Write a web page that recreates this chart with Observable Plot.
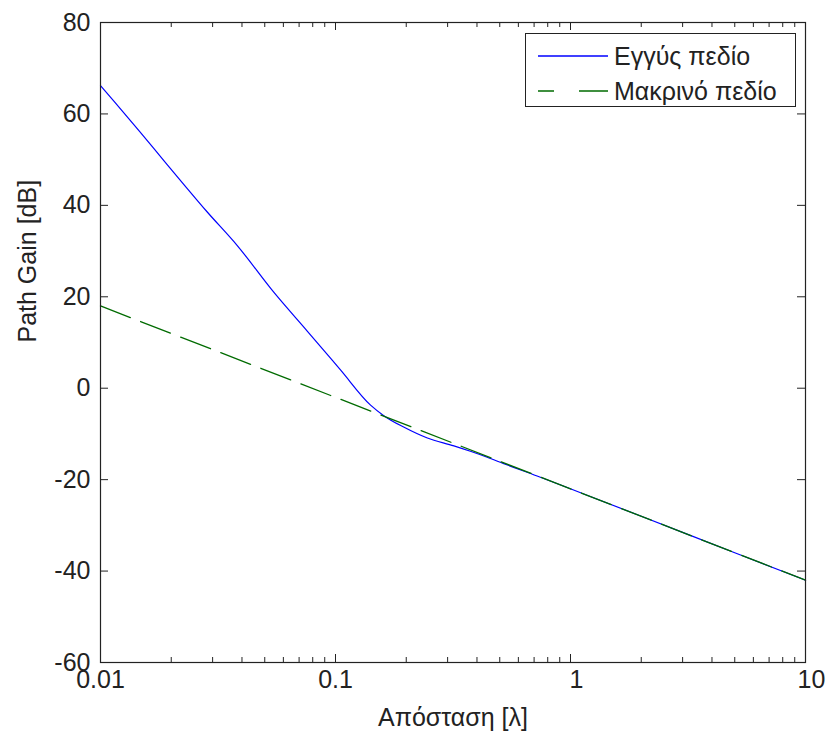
<!DOCTYPE html>
<html><head><meta charset="utf-8">
<script src="https://cdn.jsdelivr.net/npm/d3@7"></script>
<script src="https://cdn.jsdelivr.net/npm/@observablehq/plot@0.6"></script>
<style>
body{margin:0;background:#fff;}
#wrap{position:relative;width:831px;height:738px;font-family:"Liberation Sans",Arial,sans-serif;}
#legend{position:absolute;left:525px;top:33px;width:269px;height:72px;border:1px solid #222;background:#fff;}
#legend svg{display:block;}
</style></head><body><div id="wrap"></div>
<script>
// Near-field curve (distance in λ, path gain in dB)
const nearDist = [0.01, 0.0114, 0.0146, 0.0186, 0.0226, 0.0284, 0.0382, 0.0546, 0.0758, 0.105, 0.141, 0.1605, 0.195, 0.246, 0.319, 0.375, 0.442, 0.52, 0.721, 1.07, 2, 5, 10];
const nearGain = [66.2, 62.8, 56.3, 49.8, 44.6, 38.6, 31.2, 21.0, 12.5, 4.0, -3.7, -6.0, -8.5, -10.9, -12.6, -13.8, -15.1, -16.5, -19.2, -22.6, -28.0, -36.0, -42.0];
// Far-field curve
const farDist = [0.01, 0.1, 1, 10];
const farGain = [18, -2, -22, -42];

const seriesNames = ["Εγγύς πεδίο", "Μακρινό πεδίο"];
const seriesColors = ["#0000ff", "#006b00"];
const xLabel = "Απόσταση [λ]";
const yLabel = "Path Gain [dB]";
const xTickValues = [0.01, 0.1, 1, 10];
const xMinorTicks = [0.02,0.03,0.04,0.05,0.06,0.07,0.08,0.09,0.2,0.3,0.4,0.5,0.6,0.7,0.8,0.9,2,3,4,5,6,7,8,9];
const yTickValues = [-60, -40, -20, 0, 20, 40, 60, 80];

const near = nearDist.map((d, i) => ({d, g: nearGain[i]}));
const far = farDist.map((d, i) => ({d, g: farGain[i]}));

const W = 831, H = 738, mL = 100, mR = 26, mT = 22, mB = 76;
const fw = W - mL - mR, fh = H - mT - mB;
const majorLen = 8, minorLen = 5;
const axisColor = "#222";

const chart = Plot.plot({
  width: W, height: H,
  marginLeft: mL, marginRight: mR, marginTop: mT, marginBottom: mB,
  style: {fontFamily: '"Liberation Sans", Arial, sans-serif', fontSize: "25px", color: axisColor, background: "#fff"},
  x: {type: "log", domain: [0.01, 10]},
  y: {domain: [-60, 80]},
  marks: [
    Plot.line(near, {x: "d", y: "g", stroke: seriesColors[0], strokeWidth: 1.2, curve: "monotone-x"}),
    Plot.line(far, {x: "d", y: "g", stroke: seriesColors[1], strokeWidth: 1.3, strokeDasharray: "32,11"}),
    // inward ticks: bottom & top
    Plot.tickX(xTickValues, {x: d => d, insetTop: fh - majorLen, stroke: axisColor}),
    Plot.tickX(xTickValues, {x: d => d, insetBottom: fh - majorLen, stroke: axisColor}),
    Plot.tickX(xMinorTicks, {x: d => d, insetTop: fh - minorLen, stroke: axisColor}),
    Plot.tickX(xMinorTicks, {x: d => d, insetBottom: fh - minorLen, stroke: axisColor}),
    // inward ticks: left & right
    Plot.tickY(yTickValues, {y: d => d, insetRight: fw - majorLen, stroke: axisColor}),
    Plot.tickY(yTickValues, {y: d => d, insetLeft: fw - majorLen, stroke: axisColor}),
    Plot.frame({stroke: axisColor, strokeWidth: 1.2}),
    Plot.axisX(xTickValues.slice(0, 2), {tickSize: 0, tickPadding: 8, tickFormat: d => String(d), label: null}),
    Plot.axisX(xTickValues.slice(2), {tickSize: 0, tickPadding: 8, dx: 6, tickFormat: d => String(d), label: null}),
    Plot.axisY(yTickValues, {tickSize: 0, tickPadding: 10, tickFormat: d => String(d), label: null}),
    Plot.text([xLabel], {frameAnchor: "bottom", dy: 63, lineAnchor: "bottom", fill: axisColor}),
    Plot.text([yLabel], {frameAnchor: "left", rotate: -90, dx: -65, lineAnchor: "bottom", fill: axisColor})
  ]
});
const wrap = document.getElementById("wrap");
wrap.appendChild(chart);

// Legend (overlaid inside plot area, top-right)
const leg = document.createElement("div");
leg.id = "legend";
const ns = "http://www.w3.org/2000/svg";
const ls = document.createElementNS(ns, "svg");
ls.setAttribute("width", 269); ls.setAttribute("height", 72);
const rows = [22, 57];
const dashes = [null, "16,25,40"];
seriesNames.forEach((name, i) => {
  const ln = document.createElementNS(ns, "line");
  ln.setAttribute("x1", 12); ln.setAttribute("x2", 82);
  ln.setAttribute("y1", rows[i]); ln.setAttribute("y2", rows[i]);
  ln.setAttribute("stroke", seriesColors[i]); ln.setAttribute("stroke-width", 1.3);
  if (dashes[i]) ln.setAttribute("stroke-dasharray", dashes[i]);
  ls.appendChild(ln);
  const t = document.createElementNS(ns, "text");
  t.setAttribute("x", 88); t.setAttribute("y", rows[i]);
  t.setAttribute("dy", "0.35em");
  t.setAttribute("font-size", 25);
  t.setAttribute("font-family", '"Liberation Sans", Arial, sans-serif');
  t.setAttribute("fill", axisColor);
  t.textContent = name;
  ls.appendChild(t);
});
leg.appendChild(ls);
wrap.appendChild(leg);
</script>
</body></html>
